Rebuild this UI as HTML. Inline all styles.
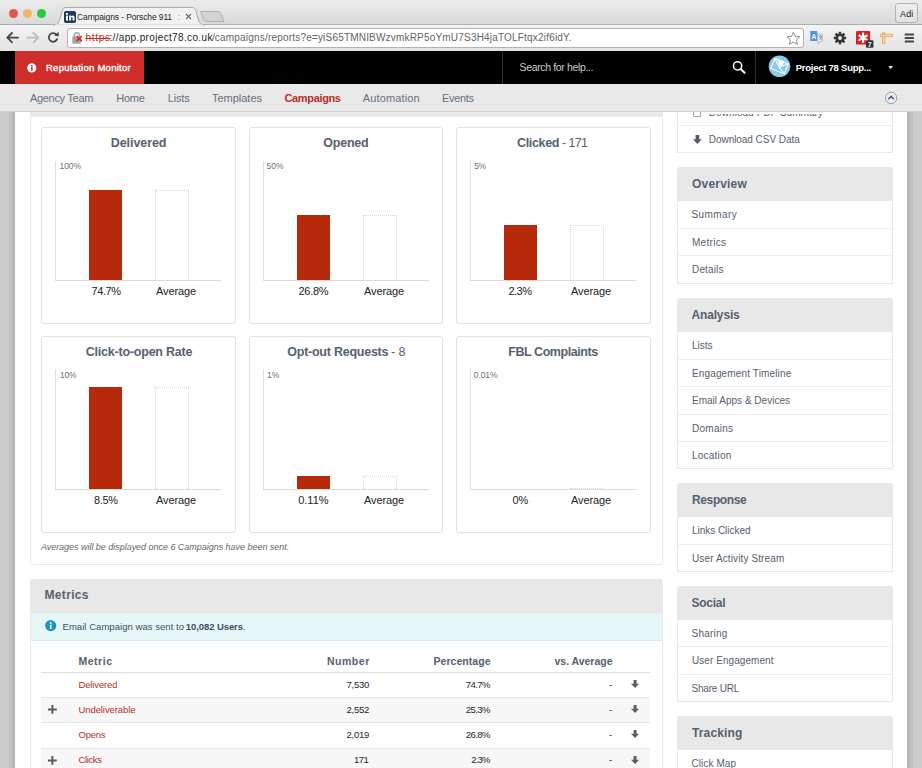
<!DOCTYPE html>
<html lang="en">
<head>
<meta charset="utf-8">
<title>Campaigns - Porsche 911</title>
<style>
*{box-sizing:border-box;margin:0;padding:0}
html,body{width:922px;height:768px;overflow:hidden}
body{position:relative;background:#fff;font-family:"Liberation Sans",sans-serif}
.a{position:absolute}
.t{position:absolute;white-space:pre;line-height:1;font-family:"Liberation Sans",sans-serif}
svg{position:absolute;overflow:visible}
/* ---------- browser chrome ---------- */
#tabbar{left:0;top:0;width:922px;height:25px;background:linear-gradient(#ececec,#d9d9d9)}
#toolbar{left:0;top:24px;width:922px;height:27px;background:linear-gradient(#f4f4f4,#e4e4e4)}
/* ---------- app header ---------- */
#blackbar{left:0;top:51px;width:922px;height:33px;background:#000}
#brand{left:14.5px;top:51px;width:129.5px;height:33px;background:#cf2e2a}
#nav{left:0;top:84px;width:922px;height:28px;background:#e9e9e9;border-bottom:1px solid #d2d2d2}
#navshadow{left:30px;top:112px;width:633px;height:4.5px;background:#e9e9e9}
/* ---------- page ---------- */
#gutL{left:0;top:112px;width:15px;height:656px;background:linear-gradient(90deg,#cbcbcb 0,#cbcbcb 8.5px,#c1c1c1 9.5px,#c0c0c0 12px,#b6b8b8 12.5px,#b4b7b7 15px)}
#gutR{left:907px;top:112px;width:15px;height:656px;background:linear-gradient(90deg,#b4b7b7 0,#b6b8b8 2.5px,#c0c0c0 3px,#c1c1c1 5.5px,#cbcbcb 6.5px,#cbcbcb 15px)}
.panel{border:1px solid #e5e9f0;background:#fff}
.card{border:1px solid #e1e2e4;border-radius:3px;background:#fff;width:195px;height:197px}
.axv{width:1px;background:#dfdfdf}
.axh{height:1px;background:#d9d9d9}
.bar{background:#b62a0b}
.avg{border:1px dotted #d6d6d6;border-bottom:none;background:#fff}
.hd{background:#e8e8e8;border-radius:3px 3px 0 0}
.dv{height:1px;background:#eeeef0}
.rl{height:1px;background:#e7e7ea}
.stripe{background:#f7f7f7}
</style>
</head>
<body>
<!-- ===== page content (below nav) ===== -->
<div id="gutL" class="a"></div>
<div id="gutR" class="a"></div>
<div class="a panel" style="left:30px;top:100px;width:633px;height:465px;border-radius:0 0 3px 3px;"></div>
<div class="a card" style="left:41px;top:127px;width:195px;height:197px;"></div>
<div class="a axv" style="left:55px;top:161px;width:1px;height:120px;"></div>
<div class="a axh" style="left:55px;top:280px;width:166px;height:1px;"></div>
<div class="a bar" style="left:89px;top:190px;width:33px;height:90px;"></div>
<div class="a avg" style="left:155px;top:190px;width:34px;height:90px;"></div>
<div class="a card" style="left:249px;top:127px;width:194px;height:197px;"></div>
<div class="a axv" style="left:263px;top:161px;width:1px;height:120px;"></div>
<div class="a axh" style="left:263px;top:280px;width:166px;height:1px;"></div>
<div class="a bar" style="left:297px;top:215px;width:33px;height:65px;"></div>
<div class="a avg" style="left:363px;top:215px;width:34px;height:65px;"></div>
<div class="a card" style="left:456px;top:127px;width:195px;height:197px;"></div>
<div class="a axv" style="left:470px;top:161px;width:1px;height:120px;"></div>
<div class="a axh" style="left:470px;top:280px;width:166px;height:1px;"></div>
<div class="a bar" style="left:504px;top:225px;width:33px;height:55px;"></div>
<div class="a avg" style="left:570px;top:225px;width:34px;height:55px;"></div>
<div class="a card" style="left:41px;top:336px;width:195px;height:197px;"></div>
<div class="a axv" style="left:55px;top:369px;width:1px;height:121px;"></div>
<div class="a axh" style="left:55px;top:489px;width:166px;height:1px;"></div>
<div class="a bar" style="left:89px;top:387px;width:33px;height:102px;"></div>
<div class="a avg" style="left:155px;top:387px;width:34px;height:102px;"></div>
<div class="a card" style="left:249px;top:336px;width:194px;height:197px;"></div>
<div class="a axv" style="left:263px;top:369px;width:1px;height:121px;"></div>
<div class="a axh" style="left:263px;top:489px;width:166px;height:1px;"></div>
<div class="a bar" style="left:297px;top:476px;width:33px;height:13px;"></div>
<div class="a avg" style="left:363px;top:476px;width:34px;height:13px;"></div>
<div class="a card" style="left:456px;top:336px;width:195px;height:197px;"></div>
<div class="a axv" style="left:470px;top:369px;width:1px;height:121px;"></div>
<div class="a axh" style="left:470px;top:489px;width:166px;height:1px;"></div>
<div class="a avg" style="left:570px;top:488px;width:34px;height:1px;"></div>
<div class="a panel" style="left:30px;top:579px;width:633px;height:200px;border-radius:3px 3px 0 0;"></div>
<div class="a hd" style="left:30px;top:579px;width:633px;height:34px;"></div>
<div class="a " style="left:31px;top:613px;width:631px;height:28px;background:#e6f6f7;border-bottom:1px solid #d6eef1;"></div>
<div class="a rl" style="left:41px;top:672px;width:609px;height:1px;background:#dedede;"></div>
<div class="a stripe" style="left:41px;top:698px;width:609px;height:24px;"></div>
<div class="a stripe" style="left:41px;top:749px;width:609px;height:24px;"></div>
<div class="a rl" style="left:41px;top:697px;width:609px;height:1px;"></div>
<div class="a rl" style="left:41px;top:722px;width:609px;height:1px;"></div>
<div class="a rl" style="left:41px;top:748px;width:609px;height:1px;"></div>
<div class="a panel" style="left:677px;top:70px;width:216px;height:83px;"></div>
<div class="a dv" style="left:678px;top:125px;width:214px;height:1px;"></div>
<div class="a hd" style="left:677px;top:167px;width:216px;height:34px;"></div>
<div class="a panel" style="left:677px;top:201px;width:216px;height:83px;border-top:none;"></div>
<div class="a dv" style="left:678px;top:228px;width:214px;height:1px;"></div>
<div class="a dv" style="left:678px;top:255px;width:214px;height:1px;"></div>
<div class="a hd" style="left:677px;top:298px;width:216px;height:34px;"></div>
<div class="a panel" style="left:677px;top:332px;width:216px;height:137px;border-top:none;"></div>
<div class="a dv" style="left:678px;top:359px;width:214px;height:1px;"></div>
<div class="a dv" style="left:678px;top:386px;width:214px;height:1px;"></div>
<div class="a dv" style="left:678px;top:414px;width:214px;height:1px;"></div>
<div class="a dv" style="left:678px;top:441px;width:214px;height:1px;"></div>
<div class="a hd" style="left:677px;top:483px;width:216px;height:34px;"></div>
<div class="a panel" style="left:677px;top:517px;width:216px;height:55px;border-top:none;"></div>
<div class="a dv" style="left:678px;top:544px;width:214px;height:1px;"></div>
<div class="a hd" style="left:677px;top:586px;width:216px;height:34px;"></div>
<div class="a panel" style="left:677px;top:620px;width:216px;height:82px;border-top:none;"></div>
<div class="a dv" style="left:678px;top:646px;width:214px;height:1px;"></div>
<div class="a dv" style="left:678px;top:674px;width:214px;height:1px;"></div>
<div class="a hd" style="left:677px;top:716px;width:216px;height:34px;"></div>
<div class="a panel" style="left:677px;top:750px;width:216px;height:51px;border-top:none;"></div>
<div class="a dv" style="left:678px;top:777px;width:214px;height:1px;"></div>
<svg style="left:692.7px;top:134.5px" width="9" height="9" viewBox="0 0 9 9"><path d="M2.600 0H6.200V4.200H8.800L4.400 9L0 4.200H2.600Z" fill="#555b67"/></svg>
<div class="a" style="left:692.500px;top:106px;width:8.500px;height:10.500px;border:1px solid #9aa4ad;border-radius:1px"></div>
<svg style="left:45px;top:620px" width="12" height="12" viewBox="0 0 12 12"><circle cx="5.700" cy="5.600" r="5.600" fill="#1a95c9"/><rect x="4.900" y="4.700" width="1.700" height="4" fill="#fff"/><rect x="4.900" y="2.300" width="1.700" height="1.500" fill="#fff"/></svg>
<svg style="left:630.8px;top:680px" width="9" height="9" viewBox="0 0 9 9"><path d="M2.600 0H5.600V3.800H8.100L4.100 8.100L0 3.800H2.600Z" fill="#595f6b"/></svg>
<svg style="left:630.8px;top:705px" width="9" height="9" viewBox="0 0 9 9"><path d="M2.600 0H5.600V3.800H8.100L4.100 8.100L0 3.800H2.600Z" fill="#595f6b"/></svg>
<svg style="left:630.8px;top:730px" width="9" height="9" viewBox="0 0 9 9"><path d="M2.600 0H5.600V3.800H8.100L4.100 8.100L0 3.800H2.600Z" fill="#595f6b"/></svg>
<svg style="left:630.8px;top:755.5px" width="9" height="9" viewBox="0 0 9 9"><path d="M2.600 0H5.600V3.800H8.100L4.100 8.100L0 3.800H2.600Z" fill="#595f6b"/></svg>
<svg style="left:48.3px;top:705px" width="9" height="9" viewBox="0 0 9 9"><path d="M4.400 0V8.800M0 4.400H8.800" stroke="#555b66" stroke-width="2" fill="none"/></svg>
<svg style="left:48.3px;top:755.5px" width="9" height="9" viewBox="0 0 9 9"><path d="M4.400 0V8.800M0 4.400H8.800" stroke="#555b66" stroke-width="2" fill="none"/></svg>
<!-- ===== browser chrome ===== -->
<div id="tabbar" class="a"></div>
<div id="toolbar" class="a"></div>
<div class="a" style="left:0;top:24px;width:922px;height:1px;background:#aeaeae"></div>
<div class="a" style="left:8.6px;top:8.6px;width:9px;height:9px;border-radius:50%;background:#e0574f;"></div>
<div class="a" style="left:23.0px;top:8.6px;width:9px;height:9px;border-radius:50%;background:#eeb767;"></div>
<div class="a" style="left:37.4px;top:8.6px;width:9px;height:9px;border-radius:50%;background:#2ec840;"></div>
<svg style="left:50px;top:5px" width="160" height="21" viewBox="0 0 160 21"><path d="M4 20 C8 20 9 17 10.5 12 L12 6 C13 3 14 2.5 16 2.5 L142 2.5 C144 2.5 145 3 146 6 L147.5 12 C149 17 150 20 154 20 Z" fill="#f1f1f1" stroke="#a9a9a9" stroke-width="1"/><rect x="5" y="19.5" width="148" height="2" fill="#f1f1f1"/></svg>
<svg style="left:199px;top:10px" width="27" height="13" viewBox="0 0 27 13"><path d="M1.5 1.5 L19 1.5 C21 1.5 21.5 2.5 22.5 5 L25 11.5 L7.5 11.5 C5.5 11.5 5 10.5 4 8 Z" fill="#d3d3d3" stroke="#b0b0b0" stroke-width="1"/></svg>
<div class="a" style="left:64px;top:11px;width:12px;height:11.5px;border-radius:2px;background:#1f3b5c"></div>
<svg style="left:64px;top:11px" width="12" height="12" viewBox="0 0 12 12"><rect x="2" y="4.6" width="1.9" height="5" fill="#fff"/><rect x="2" y="2" width="1.9" height="1.8" fill="#fff"/><path d="M5.2 9.6V4.6h1.8v.7c.4-.6 1-.8 1.7-.8 1.300 0 1.800.8 1.800 2.100v3h-1.900V6.900c0-.5-.2-.9-.7-.9s-.8.400-.8.900v2.700z" fill="#fff"/></svg>
<svg style="left:184.5px;top:12.5px" width="7" height="7" viewBox="0 0 7 7"><path d="M1 1L6 6M6 1L1 6" stroke="#6a6a6a" stroke-width="1.1" fill="none"/></svg>
<div class="a" style="left:895px;top:3px;width:23px;height:19.5px;border:1px solid #b3b3b3;border-radius:3px;background:linear-gradient(#ededed,#e2e2e2)"></div>
<svg style="left:5px;top:31px" width="16" height="14" viewBox="0 0 16 14"><path d="M13 6.7H3M7 2L2.300 6.700L7 11.400" stroke="#454545" stroke-width="1.8" fill="none" stroke-linecap="round" stroke-linejoin="round"/></svg>
<svg style="left:25px;top:31px" width="16" height="14" viewBox="0 0 16 14"><path d="M2.500 6.700H12.500M8.500 2L13.200 6.700L8.500 11.400" stroke="#bcbcbc" stroke-width="1.800" fill="none" stroke-linecap="round" stroke-linejoin="round"/></svg>
<svg style="left:46px;top:30px" width="16" height="16" viewBox="0 0 16 16"><path d="M10.800 5.200A4.300 4.300 0 1 0 11.300 8.600" stroke="#454545" stroke-width="1.800" fill="none"/><path d="M8.300 5.800L12.800 6.300L12.600 1.800Z" fill="#454545"/></svg>
<div class="a" style="left:67px;top:28px;width:736.5px;height:19.5px;background:#fff;border:1px solid #b2b2b2;border-radius:3px"></div>
<svg style="left:71px;top:31px" width="13" height="14" viewBox="0 0 13 14"><path d="M3.200 6V4.300a2.600 2.600 0 0 1 5.200 0V6" stroke="#a8a8a8" stroke-width="1.500" fill="none"/><rect x="1.300" y="5.600" width="8.600" height="7.200" rx="1" fill="#a3a3a3"/><path d="M5.600 5L10.800 10.200M10.800 5L5.600 10.200" stroke="#d8261c" stroke-width="1.700" fill="none"/></svg>
<svg style="left:786px;top:31px" width="15" height="15" viewBox="0 0 15 15"><path d="M7.400 1.200L9.300 5.300L13.800 5.800L10.500 8.900L11.400 13.400L7.400 11.100L3.400 13.400L4.300 8.900L1 5.800L5.500 5.300Z" fill="#fff" stroke="#8a8a8a" stroke-width="1" stroke-linejoin="round"/></svg>
<svg style="left:809px;top:30px" width="15" height="15" viewBox="0 0 15 15"><path d="M1.300 1h6.500l2.700 10H1.300z" fill="#4f92e3"/><path d="M8.500 4h5v7.500H10.500L9 14 8.300 11.500z" fill="#e3e6ea" stroke="#9aa3ad" stroke-width=".5"/><text x="2.600" y="8.700" font-family="Liberation Sans,sans-serif" font-size="6.500" font-weight="700" fill="#fff">A</text><path d="M10 6.200h3M11.500 5.500v.8M10.300 9.600c1.200-.7 2-1.900 2.200-3.200M10.800 7.300c.4 1 1.200 1.800 2.100 2.300" stroke="#6b7480" stroke-width=".7" fill="none"/></svg>
<svg style="left:833px;top:30.7px" width="14" height="14" viewBox="0 0 14 14"><g transform="translate(7 7)"><rect x="-1.300" y="-6.200" width="2.600" height="12.400" fill="#353535" transform="rotate(0)"/><rect x="-1.300" y="-6.200" width="2.600" height="12.400" fill="#353535" transform="rotate(45)"/><rect x="-1.300" y="-6.200" width="2.600" height="12.400" fill="#353535" transform="rotate(90)"/><rect x="-1.300" y="-6.200" width="2.600" height="12.400" fill="#353535" transform="rotate(135)"/><circle r="4.300" fill="#353535"/><circle r="1.900" fill="#ececec"/></g></svg>
<svg style="left:856px;top:31px" width="18" height="17" viewBox="0 0 18 17"><rect x="0" y="0" width="14.200" height="13.600" rx="1.200" fill="#d3232a"/><g transform="translate(7.100 6.800)" stroke="#fff" stroke-width="2.200" stroke-linecap="round"><path d="M0 -4.200V4.200"/><path d="M0 -4.200V4.200" transform="rotate(60)"/><path d="M0 -4.200V4.200" transform="rotate(120)"/></g><rect x="10" y="9.200" width="7.400" height="7.600" rx="1" fill="#2f3237"/><text x="11.700" y="15.600" font-family="Liberation Sans,sans-serif" font-size="7" font-weight="700" fill="#fff">7</text></svg>
<svg style="left:880px;top:31.5px" width="14" height="13" viewBox="0 0 14 13"><rect x="2.500" y=".900" width="2.500" height="10.600" fill="#f8dcae" stroke="#e39c40" stroke-width=".7"/><rect x=".700" y="2.200" width="11.700" height="2.500" fill="#f8dcae" stroke="#e39c40" stroke-width=".7"/></svg>
<svg style="left:904px;top:32px" width="11" height="12" viewBox="0 0 11 12"><rect x=".700" y="1.400" width="9.300" height="2" rx=".5" fill="#454545"/><rect x=".700" y="5" width="9.300" height="2" rx=".5" fill="#454545"/><rect x=".700" y="8.600" width="9.300" height="2" rx=".5" fill="#454545"/></svg>
<!-- ===== app header ===== -->
<div id="blackbar" class="a"></div>
<div id="brand" class="a"></div>
<div id="nav" class="a"></div>
<div id="navshadow" class="a"></div>
<svg style="left:27px;top:62.5px" width="10" height="10" viewBox="0 0 10 10"><circle cx="4.800" cy="4.900" r="4.600" fill="#fff"/><rect x="4" y="4.100" width="1.700" height="3.500" fill="#cf2e2a"/><rect x="4" y="2" width="1.700" height="1.400" fill="#cf2e2a"/></svg>
<div class="a" style="left:502px;top:51px;width:1px;height:33px;background:#2f2f2f"></div>
<div class="a" style="left:755px;top:51px;width:1px;height:33px;background:#2f2f2f"></div>
<svg style="left:731px;top:60px" width="16" height="15" viewBox="0 0 16 15"><circle cx="6.600" cy="5.900" r="4.100" stroke="#fff" stroke-width="1.600" fill="none"/><path d="M9.600 9L13.600 12.800" stroke="#fff" stroke-width="2" stroke-linecap="round"/></svg>
<svg style="left:768px;top:55px" width="23" height="23" viewBox="0 0 23 23"><circle cx="11.500" cy="11.300" r="10.800" fill="#8dcaee"/><g transform="rotate(22 11.500 11.300)" fill="none" stroke="#fff" stroke-width="1"><rect x="4.200" y="5.800" width="14.600" height="10.800"/><path d="M4.200 5.800L11.500 12.300L18.800 5.800"/><path d="M11.500 12.300L18.800 16.600" /></g><path d="M9.300 3.800l7 2.800-1.800 4.300-3.500-.3z" fill="#fff" opacity=".95"/></svg>
<svg style="left:887.5px;top:66px" width="6" height="4" viewBox="0 0 6 4"><path d="M.300 0H5.100L2.700 3.300Z" fill="#dcdcdc"/></svg>
<svg style="left:884px;top:91px" width="14" height="14" viewBox="0 0 14 14"><circle cx="7.100" cy="6.900" r="5.700" fill="#ededed" stroke="#8b97a8" stroke-width=".9"/><path d="M4.300 8.300L7.100 5.400L9.900 8.300" stroke="#465880" stroke-width="1.500" fill="none"/></svg>
<!-- ===== all text ===== -->
<span class="t" style="left:77.00px;top:13px;font-size:8.5px;color:#1f1f1f;letter-spacing:-0.116px;">Campaigns - Porsche 911</span>
<span class="t" style="left:177.80px;top:13px;font-size:8.5px;color:#a5a5a5;">:</span>
<span class="t" style="left:900.10px;top:10px;font-size:9px;color:#222;letter-spacing:0.092px;">Adi</span>
<span class="t" style="left:85.50px;top:33px;font-size:10px;color:#c5281c;letter-spacing:0.678px;text-decoration:line-through;">https</span>
<span class="t" style="left:109.40px;top:33px;font-size:10px;color:#222;letter-spacing:0.351px;">://app.project78.co.uk</span>
<span class="t" style="left:211.90px;top:33px;font-size:10px;color:#636363;letter-spacing:0.192px;">/campaigns/reports?e=yiS65TMNIBWzvmkRP5oYmU7S3H4jaTOLFtqx2if6idY.</span>
<span class="t" style="left:46.00px;top:63px;font-size:9.5px;color:#fff;letter-spacing:0.260px;-webkit-text-stroke:.35px #fff;">Reputation Monitor</span>
<span class="t" style="left:519.50px;top:62px;font-size:10.5px;color:#cdcdcd;letter-spacing:-0.351px;">Search for help...</span>
<span class="t" style="left:795.75px;top:63px;font-size:9.5px;color:#fff;letter-spacing:-0.251px;font-weight:700;">Project 78 Supp...</span>
<span class="t" style="left:29.90px;top:93px;font-size:11px;color:#65707d;letter-spacing:-0.295px;">Agency Team</span>
<span class="t" style="left:116.20px;top:93px;font-size:11px;color:#65707d;letter-spacing:-0.215px;">Home</span>
<span class="t" style="left:167.75px;top:93px;font-size:11px;color:#65707d;letter-spacing:-0.156px;">Lists</span>
<span class="t" style="left:212.00px;top:93px;font-size:11px;color:#65707d;letter-spacing:-0.018px;">Templates</span>
<span class="t" style="left:284.50px;top:93px;font-size:11px;color:#b7302a;letter-spacing:-0.350px;font-weight:700;">Campaigns</span>
<span class="t" style="left:362.75px;top:93px;font-size:11px;color:#65707d;letter-spacing:0.149px;">Automation</span>
<span class="t" style="left:442.00px;top:93px;font-size:11px;color:#65707d;letter-spacing:-0.328px;">Events</span>
<span class="t" style="left:110.75px;top:137px;font-size:12.5px;color:#566170;letter-spacing:-0.066px;font-weight:700;">Delivered</span>
<span class="t" style="left:323.25px;top:137px;font-size:12.5px;color:#566170;letter-spacing:-0.209px;font-weight:700;">Opened</span>
<span class="t" style="left:517.00px;top:137px;font-size:12.5px;color:#566170;letter-spacing:-0.328px;font-weight:700;">Clicked</span>
<span class="t" style="left:562.00px;top:137px;font-size:12.5px;color:#566170;letter-spacing:-0.625px;">- 171</span>
<span class="t" style="left:85.75px;top:346px;font-size:12.5px;color:#566170;letter-spacing:-0.217px;font-weight:700;">Click-to-open Rate</span>
<span class="t" style="left:287.25px;top:346px;font-size:12.5px;color:#566170;letter-spacing:-0.241px;font-weight:700;">Opt-out Requests</span>
<span class="t" style="left:391.00px;top:346px;font-size:12.5px;color:#566170;letter-spacing:-0.047px;">- 8</span>
<span class="t" style="left:508.25px;top:346px;font-size:12.5px;color:#566170;letter-spacing:-0.431px;font-weight:700;">FBL Complaints</span>
<span class="t" style="left:59.50px;top:162px;font-size:8.5px;color:#6f6f6f;letter-spacing:-0.083px;">100%</span>
<span class="t" style="left:266.50px;top:162px;font-size:8.5px;color:#6f6f6f;letter-spacing:-0.008px;">50%</span>
<span class="t" style="left:474.20px;top:162px;font-size:8.5px;color:#6f6f6f;letter-spacing:-0.397px;">5%</span>
<span class="t" style="left:60.00px;top:371px;font-size:8.5px;color:#6f6f6f;letter-spacing:-0.258px;">10%</span>
<span class="t" style="left:267.00px;top:371px;font-size:8.5px;color:#6f6f6f;letter-spacing:-0.047px;">1%</span>
<span class="t" style="left:473.75px;top:371px;font-size:8.5px;color:#6f6f6f;letter-spacing:-0.090px;">0.01%</span>
<span class="t" style="left:91.50px;top:286px;font-size:11px;color:#222;letter-spacing:-0.426px;">74.7%</span>
<span class="t" style="left:298.50px;top:286px;font-size:11px;color:#222;letter-spacing:-0.301px;">26.8%</span>
<span class="t" style="left:508.50px;top:286px;font-size:11px;color:#222;letter-spacing:-0.526px;">2.3%</span>
<span class="t" style="left:94.00px;top:495px;font-size:11px;color:#222;letter-spacing:-0.359px;">8.5%</span>
<span class="t" style="left:298.25px;top:495px;font-size:11px;color:#222;letter-spacing:-0.031px;">0.11%</span>
<span class="t" style="left:512.50px;top:495px;font-size:11px;color:#222;letter-spacing:-0.156px;">0%</span>
<span class="t" style="left:156.00px;top:286px;font-size:11px;color:#222;letter-spacing:-0.089px;">Average</span>
<span class="t" style="left:156.00px;top:495px;font-size:11px;color:#222;letter-spacing:-0.089px;">Average</span>
<span class="t" style="left:364.00px;top:286px;font-size:11px;color:#222;letter-spacing:-0.089px;">Average</span>
<span class="t" style="left:364.00px;top:495px;font-size:11px;color:#222;letter-spacing:-0.089px;">Average</span>
<span class="t" style="left:571.00px;top:286px;font-size:11px;color:#222;letter-spacing:-0.089px;">Average</span>
<span class="t" style="left:571.00px;top:495px;font-size:11px;color:#222;letter-spacing:-0.089px;">Average</span>
<span class="t" style="left:40.90px;top:543px;font-size:9px;color:#666;letter-spacing:-0.028px;font-style:italic;">Averages will be displayed once 6 Campaigns have been sent.</span>
<span class="t" style="left:44.50px;top:589px;font-size:12px;color:#566170;letter-spacing:0.328px;font-weight:700;">Metrics</span>
<span class="t" style="left:62.50px;top:622px;font-size:9.5px;color:#3f4f5f;letter-spacing:0.044px;">Email Campaign was sent to</span>
<span class="t" style="left:185.75px;top:622px;font-size:9.5px;color:#3f4f5f;letter-spacing:-0.078px;font-weight:700;">10,082 Users</span>
<span class="t" style="left:243.10px;top:622px;font-size:9.5px;color:#3f4f5f;">.</span>
<span class="t" style="left:78.50px;top:656px;font-size:10.5px;color:#566170;letter-spacing:0.512px;font-weight:700;">Metric</span>
<span class="t" style="left:327.00px;top:656px;font-size:10.5px;color:#566170;letter-spacing:0.512px;font-weight:700;">Number</span>
<span class="t" style="left:433.50px;top:656px;font-size:10.5px;color:#566170;letter-spacing:0.042px;font-weight:700;">Percentage</span>
<span class="t" style="left:554.50px;top:656px;font-size:10.5px;color:#566170;letter-spacing:-0.019px;font-weight:700;">vs. Average</span>
<span class="t" style="left:78.50px;top:680px;font-size:9.5px;color:#b3312b;letter-spacing:-0.143px;">Delivered</span>
<span class="t" style="left:78.50px;top:705px;font-size:9.5px;color:#b3312b;letter-spacing:-0.091px;">Undeliverable</span>
<span class="t" style="left:78.50px;top:730px;font-size:9.5px;color:#b3312b;letter-spacing:-0.250px;">Opens</span>
<span class="t" style="left:78.50px;top:755px;font-size:9.5px;color:#b3312b;letter-spacing:-0.369px;">Clicks</span>
<span class="t" style="left:346.50px;top:680px;font-size:9.5px;color:#262626;letter-spacing:-0.258px;">7,530</span>
<span class="t" style="left:346.50px;top:705px;font-size:9.5px;color:#262626;letter-spacing:-0.258px;">2,552</span>
<span class="t" style="left:346.50px;top:730px;font-size:9.5px;color:#262626;letter-spacing:-0.258px;">2,019</span>
<span class="t" style="left:354.00px;top:755px;font-size:9.5px;color:#262626;letter-spacing:-0.580px;">171</span>
<span class="t" style="left:465.75px;top:680px;font-size:9.5px;color:#262626;letter-spacing:-0.547px;">74.7%</span>
<span class="t" style="left:465.75px;top:705px;font-size:9.5px;color:#262626;letter-spacing:-0.547px;">25.3%</span>
<span class="t" style="left:465.75px;top:730px;font-size:9.5px;color:#262626;letter-spacing:-0.547px;">26.8%</span>
<span class="t" style="left:471.25px;top:755px;font-size:9.5px;color:#262626;letter-spacing:-0.802px;">2.3%</span>
<span class="t" style="left:609.00px;top:680px;font-size:9.5px;color:#262626;">-</span>
<span class="t" style="left:609.00px;top:705px;font-size:9.5px;color:#262626;">-</span>
<span class="t" style="left:609.00px;top:730px;font-size:9.5px;color:#262626;">-</span>
<span class="t" style="left:609.00px;top:755px;font-size:9.5px;color:#262626;">-</span>
<span class="t" style="left:708.80px;top:108px;font-size:10px;color:#55606c;letter-spacing:0.073px;clip-path:inset(6px 0 0 0);">Download PDF Summary</span>
<span class="t" style="left:708.80px;top:135px;font-size:10px;color:#55606c;letter-spacing:-0.048px;">Download CSV Data</span>
<span class="t" style="left:692.00px;top:178px;font-size:12px;color:#566170;letter-spacing:0.196px;font-weight:700;">Overview</span>
<span class="t" style="left:691.50px;top:210px;font-size:10px;color:#55606c;letter-spacing:0.409px;">Summary</span>
<span class="t" style="left:692.00px;top:238px;font-size:10px;color:#55606c;letter-spacing:0.294px;">Metrics</span>
<span class="t" style="left:692.00px;top:265px;font-size:10px;color:#55606c;letter-spacing:0.154px;">Details</span>
<span class="t" style="left:691.50px;top:309px;font-size:12px;color:#566170;letter-spacing:-0.158px;font-weight:700;">Analysis</span>
<span class="t" style="left:692.00px;top:341px;font-size:10px;color:#55606c;letter-spacing:-0.016px;">Lists</span>
<span class="t" style="left:692.00px;top:369px;font-size:10px;color:#55606c;letter-spacing:0.140px;">Engagement Timeline</span>
<span class="t" style="left:692.00px;top:396px;font-size:10px;color:#55606c;letter-spacing:0.009px;">Email Apps &amp; Devices</span>
<span class="t" style="left:692.00px;top:424px;font-size:10px;color:#55606c;letter-spacing:0.255px;">Domains</span>
<span class="t" style="left:692.00px;top:451px;font-size:10px;color:#55606c;letter-spacing:0.205px;">Location</span>
<span class="t" style="left:692.00px;top:494px;font-size:12px;color:#566170;letter-spacing:-0.373px;font-weight:700;">Response</span>
<span class="t" style="left:692.00px;top:526px;font-size:10px;color:#55606c;letter-spacing:-0.035px;">Links Clicked</span>
<span class="t" style="left:692.00px;top:554px;font-size:10px;color:#55606c;letter-spacing:0.117px;">User Activity Stream</span>
<span class="t" style="left:691.50px;top:597px;font-size:12px;color:#566170;letter-spacing:-0.272px;font-weight:700;">Social</span>
<span class="t" style="left:691.50px;top:629px;font-size:10px;color:#55606c;letter-spacing:0.214px;">Sharing</span>
<span class="t" style="left:692.00px;top:656px;font-size:10px;color:#55606c;letter-spacing:0.064px;">User Engagement</span>
<span class="t" style="left:691.50px;top:684px;font-size:10px;color:#55606c;letter-spacing:-0.215px;">Share URL</span>
<span class="t" style="left:692.00px;top:727px;font-size:12px;color:#566170;letter-spacing:0.127px;font-weight:700;">Tracking</span>
<span class="t" style="left:691.50px;top:759px;font-size:10px;color:#55606c;letter-spacing:0.074px;">Click Map</span>
</body>
</html>
